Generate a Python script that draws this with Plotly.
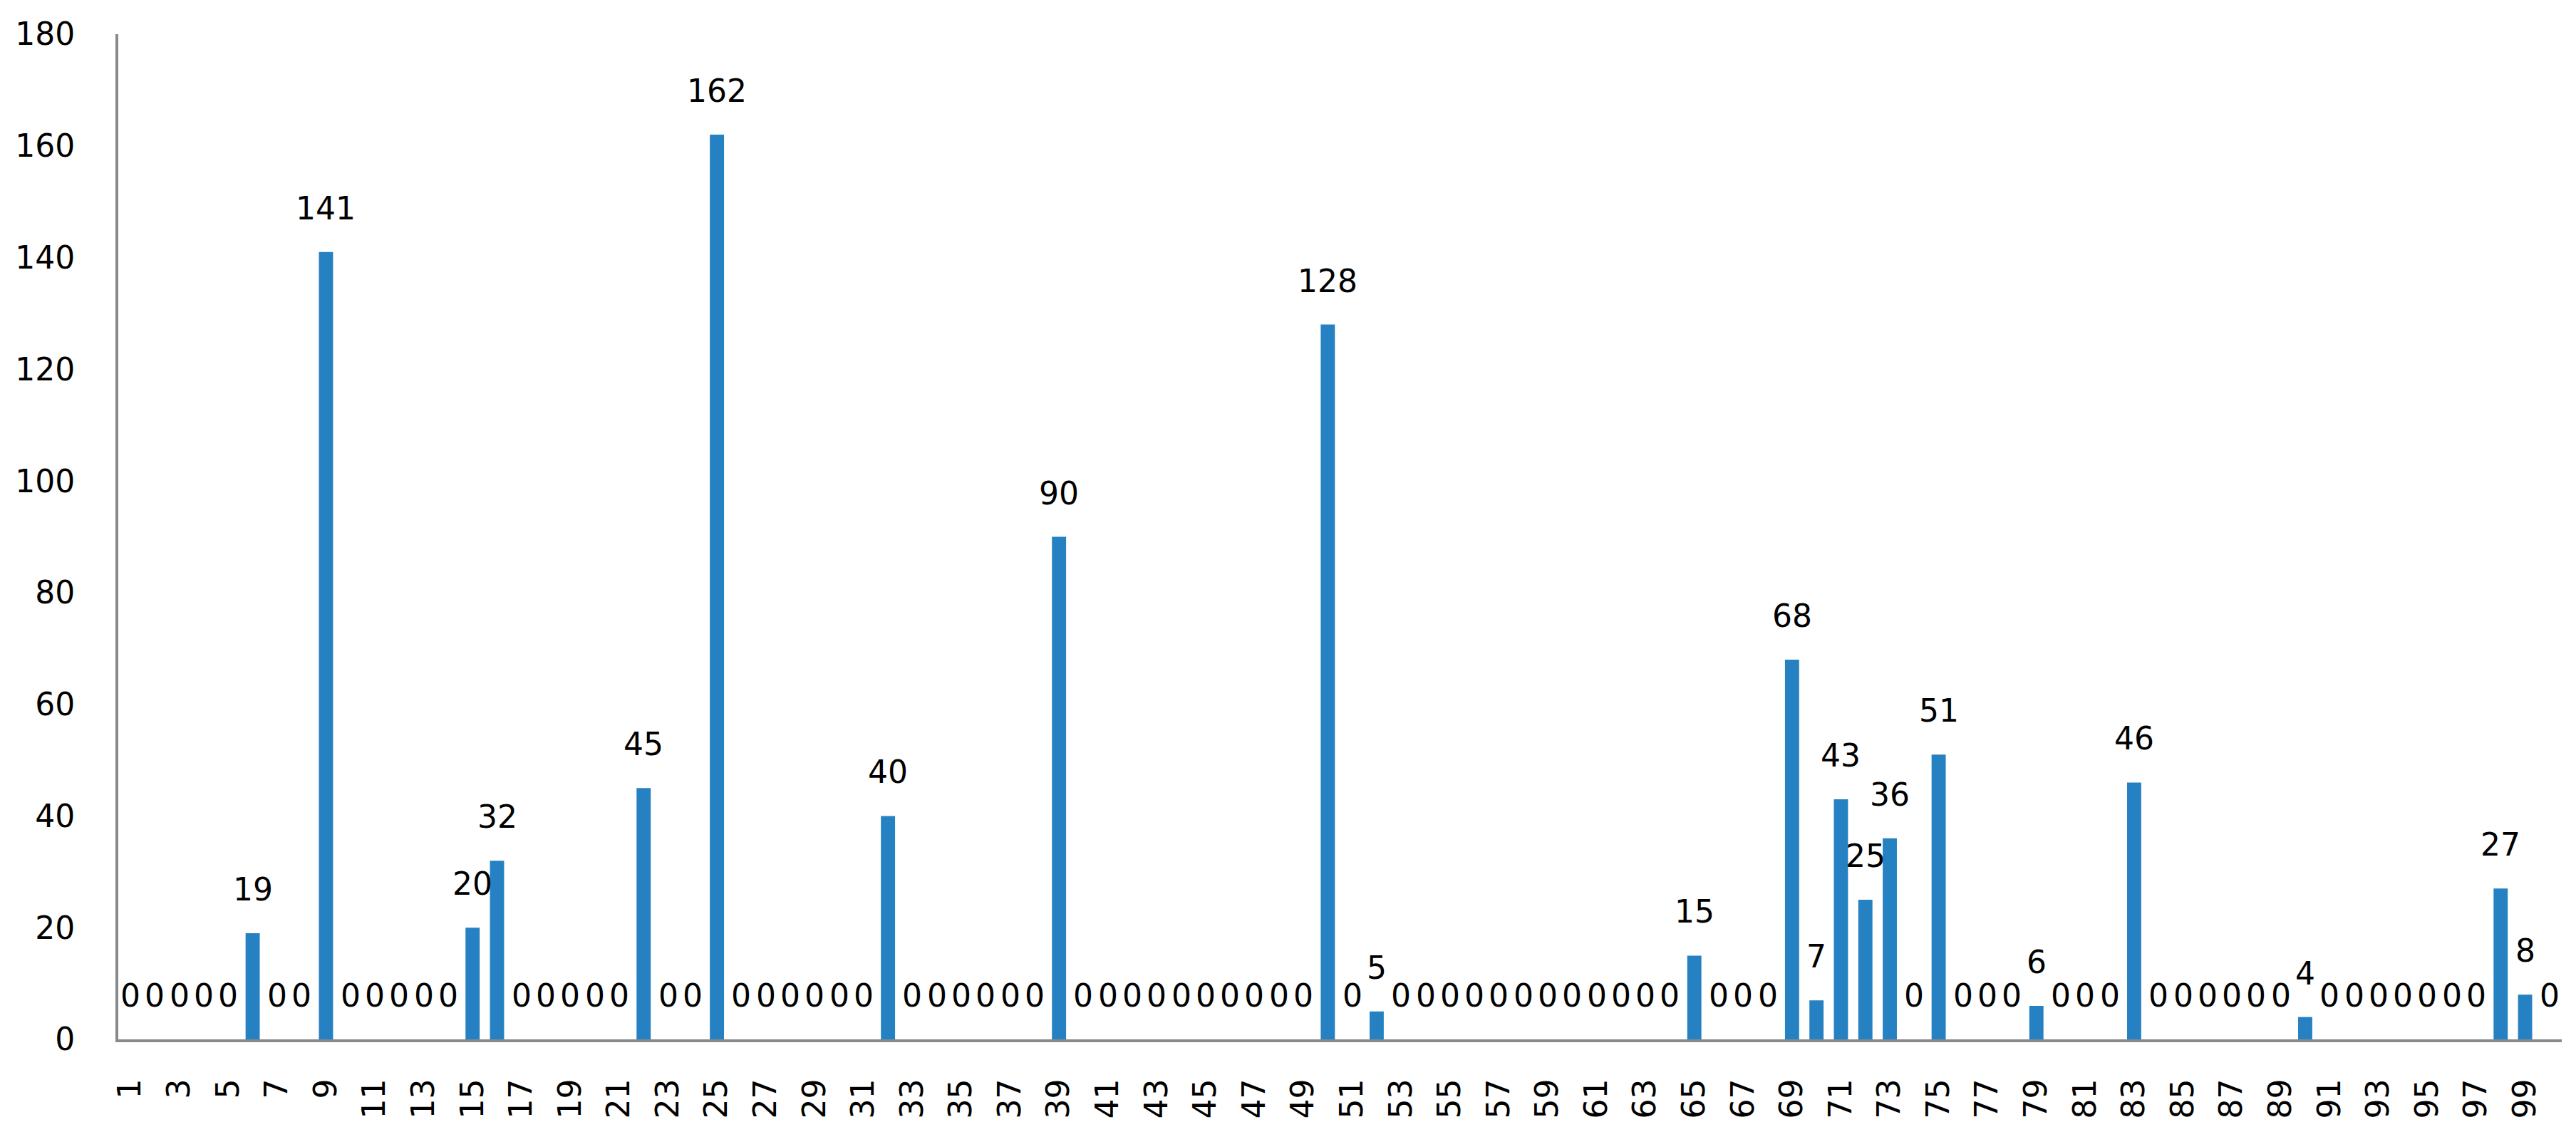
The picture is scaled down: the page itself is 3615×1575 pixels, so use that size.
import plotly.graph_objects as go

# категории 1..100 и значения столбцов
categories = list(range(1, 101))
values = [
    0, 0, 0, 0, 0, 19, 0, 0, 141, 0,
    0, 0, 0, 0, 20, 32, 0, 0, 0, 0,
    0, 45, 0, 0, 162, 0, 0, 0, 0, 0,
    0, 40, 0, 0, 0, 0, 0, 0, 90, 0,
    0, 0, 0, 0, 0, 0, 0, 0, 0, 128,
    0, 5, 0, 0, 0, 0, 0, 0, 0, 0,
    0, 0, 0, 0, 15, 0, 0, 0, 68, 7,
    43, 25, 36, 0, 51, 0, 0, 0, 6, 0,
    0, 0, 46, 0, 0, 0, 0, 0, 0, 4,
    0, 0, 0, 0, 0, 0, 0, 27, 8, 0,
]
tick_vals = categories[::2]
tick_labels = [str(c) for c in tick_vals]
y_ticks = [0, 20, 40, 60, 80, 100, 120, 140, 160, 180]

FONT = "DejaVu Sans"
BAR_COLOR = "#2681C2"
AXIS_COLOR = "#898989"

fig = go.Figure(
    go.Bar(
        x=categories,
        y=values,
        marker={"color": BAR_COLOR, "line": {"width": 0}},
        hoverinfo="x+y",
    )
)

# подписи значений над столбцами
for c, v in zip(categories, values):
    fig.add_annotation(
        x=c,
        y=v,
        text=str(v),
        showarrow=False,
        yanchor="bottom",
        yshift=34,
        font={"family": FONT, "size": 44, "color": "#000000"},
    )

fig.update_layout(
    width=3615,
    height=1575,
    margin={"l": 158, "r": 28, "t": 40, "b": 122},
    paper_bgcolor="white",
    plot_bgcolor="white",
    bargap=0.42,
    showlegend=False,
    font={"family": FONT, "size": 44, "color": "#000000"},
)
fig.update_xaxes(
    type="linear",
    range=[0.5, 100.5],
    tickmode="array",
    tickvals=tick_vals,
    ticktext=tick_labels,
    tickangle=-90,
    ticks="",
    ticklabelstandoff=34,
    showgrid=False,
    zeroline=False,
    showline=True,
    linecolor=AXIS_COLOR,
    linewidth=4,
    tickfont={"family": FONT, "size": 44, "color": "#000000"},
)
fig.update_yaxes(
    range=[0, 180],
    tickmode="array",
    tickvals=y_ticks,
    ticks="",
    ticklabelstandoff=48,
    showgrid=False,
    zeroline=False,
    showline=True,
    linecolor=AXIS_COLOR,
    linewidth=4,
    tickfont={"family": FONT, "size": 44, "color": "#000000"},
)

fig.write_html("out.html")
